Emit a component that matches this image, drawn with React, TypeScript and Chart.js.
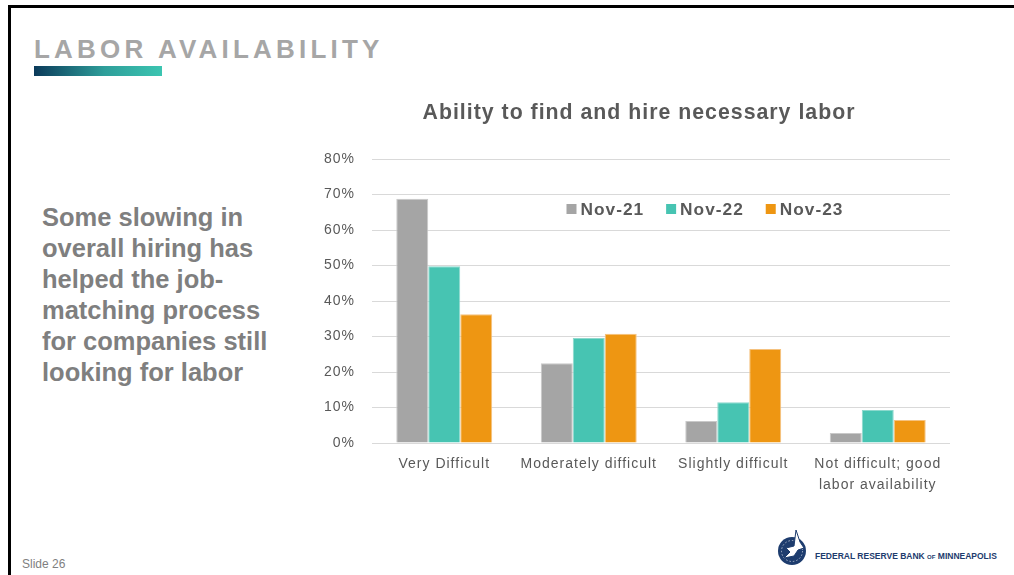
import React, { useEffect, useRef } from "react";
import { Chart, registerables } from "chart.js";

Chart.register(...registerables);

const chartTitle = "Ability to find and hire necessary labor";
const categories: (string | string[])[] = [
  "Very Difficult",
  "Moderately difficult",
  "Slightly difficult",
  ["Not difficult; good", "labor availability"],
];
const seriesNames = ["Nov-21", "Nov-22", "Nov-23"];
const nov21 = [68.8, 22.5, 6.2, 2.8];
const nov22 = [49.8, 29.6, 11.5, 9.3];
const nov23 = [36.3, 30.8, 26.5, 6.5];
const yMax = 80;
const yStep = 10;

const FONT = '"Liberation Sans", Arial, sans-serif';
const TEXT = "#595959";
const colors = ["#A5A5A5", "#47C4B2", "#EE9612"];
const edge = ["#C9C9C9", "#8CD9CD", "#F5C27F"];

const spacingPlugin = {
  id: "spacing",
  beforeUpdate(c: any) {
    c.ctx.letterSpacing = "1px";
  },
  beforeLayout(c: any) {
    c.ctx.letterSpacing = "1px";
  },
  beforeDraw(c: any) {
    c.ctx.letterSpacing = "1px";
  },
};

const titlePlugin = {
  id: "offsetTitle",
  afterDraw(chart: any) {
    const ctx = chart.ctx;
    const { left, right } = chart.chartArea;
    ctx.save();
    ctx.letterSpacing = "1px";
    ctx.font = `bold 21.3px ${FONT}`;
    ctx.fillStyle = TEXT;
    ctx.textAlign = "center";
    ctx.textBaseline = "middle";
    ctx.fillText(chartTitle, (left + right) / 2 - 22, 23);
    ctx.restore();
  },
};

const legendPlugin = {
  id: "innerLegend",
  afterDatasetsDraw(chart: any) {
    const ctx = chart.ctx;
    ctx.save();
    ctx.letterSpacing = "1px";
    ctx.font = `bold 17.3px ${FONT}`;
    ctx.textBaseline = "middle";
    ctx.textAlign = "left";
    const items = chart.data.datasets.map((ds: any) => ({
      label: ds.label,
      color: ds.backgroundColor,
      w: ctx.measureText(ds.label).width,
    }));
    const box = 10;
    const gapText = 4;
    const gapItem = 22;
    let total = 0;
    items.forEach((it: any, i: number) => {
      total += box + gapText + it.w + (i > 0 ? gapItem : 0);
    });
    const { left, width, top } = chart.chartArea;
    let x = left + width * 0.576 - total / 2;
    const y = top + 50;
    items.forEach((it: any) => {
      ctx.fillStyle = it.color;
      ctx.fillRect(x, y - 5, box, box);
      ctx.fillStyle = TEXT;
      ctx.fillText(it.label, x + box + gapText, y + 1);
      x += box + gapText + it.w + gapItem;
    });
    ctx.restore();
  },
};

function BarChart() {
  const ref = useRef<HTMLCanvasElement>(null);
  useEffect(() => {
    if (!ref.current) return;
    const data = [nov21, nov22, nov23];
    const chart = new Chart(ref.current, {
      type: "bar",
      data: {
        labels: categories as any,
        datasets: seriesNames.map((name, i) => ({
          label: name,
          data: data[i],
          backgroundColor: colors[i],
          borderColor: edge[i],
          borderWidth: 1,
          categoryPercentage: 0.664,
          barPercentage: 1,
        })),
      },
      options: {
        responsive: false,
        maintainAspectRatio: false,
        animation: false,
        layout: { padding: { left: 0, right: 20, top: 69, bottom: 0 } },
        plugins: {
          legend: { display: false },
          tooltip: { enabled: false },
          title: { display: false },
        },
        scales: {
          x: {
            grid: { display: false, drawTicks: false },
            border: { display: false },
            ticks: {
              color: TEXT,
              font: { family: FONT, size: 14, lineHeight: 1.5 },
              padding: 10.5,
              maxRotation: 0,
              autoSkip: false,
            },
            afterFit(scale: any) {
              scale.height = 67;
            },
          },
          y: {
            min: 0,
            max: yMax,
            grid: { color: "#D9D9D9", lineWidth: 1, drawTicks: false },
            border: { display: false },
            ticks: {
              stepSize: yStep,
              color: TEXT,
              font: { family: FONT, size: 14 },
              padding: 17,
              callback: (v: any) => `${v}%`,
            },
            afterFit(scale: any) {
              scale.width = 72;
            },
          },
        },
      },
      plugins: [spacingPlugin, titlePlugin, legendPlugin],
    });
    return () => chart.destroy();
  }, []);
  return <canvas ref={ref} width={670} height={420} style={{ position: "absolute", left: 300, top: 90, width: 670, height: 420 }} />;
}

export default function App() {
  return (
    <div
      style={{
        position: "fixed",
        left: 0,
        top: 0,
        width: 1014,
        height: 575,
        overflow: "hidden",
        background: "#fff",
        fontFamily: FONT,
      }}
    >
      <div
        style={{
          position: "absolute",
          left: 8,
          top: 5,
          width: 1100,
          height: 700,
          borderTop: "3px solid #000",
          borderLeft: "3px solid #000",
        }}
      />
      <div
        style={{
          position: "absolute",
          left: 34,
          top: 34,
          fontSize: 26,
          lineHeight: "30px",
          fontWeight: "bold",
          color: "#A6A6A6",
          letterSpacing: "4.2px",
          whiteSpace: "nowrap",
        }}
      >
        LABOR AVAILABILITY
      </div>
      <div
        style={{
          position: "absolute",
          left: 34,
          top: 66,
          width: 128,
          height: 10,
          background: "linear-gradient(to right, #0B3A5A, #2E9E9A 55%, #3CC5B1)",
        }}
      />
      <div
        style={{
          position: "absolute",
          left: 42,
          top: 202,
          fontSize: 25.5,
          lineHeight: "31px",
          fontWeight: "bold",
          color: "#7F7F7F",
          whiteSpace: "nowrap",
        }}
      >
        Some slowing in
        <br />
        overall hiring has
        <br />
        helped the job-
        <br />
        matching process
        <br />
        for companies still
        <br />
        looking for labor
      </div>
      <BarChart />
      <div
        style={{
          position: "absolute",
          left: 22,
          top: 557,
          fontSize: 12,
          lineHeight: "14px",
          color: "#7F7F7F",
        }}
      >
        Slide 26
      </div>
      <svg style={{ position: "absolute", left: 774, top: 528 }} width={40} height={40} viewBox="0 0 40 40">
        <circle cx={18} cy={23} r={14} fill="#1D3C6E" />
        <circle cx={18} cy={23} r={10.5} fill="none" stroke="#ffffff" strokeWidth={0.6} strokeDasharray="1.5 2" />
        <path d="M22 2 L26 14 L30 20 L24 22 L20 28 L10 30 L16 24 L12 20 L20 18 Z" fill="#ffffff" stroke="#1D3C6E" strokeWidth={1} />
      </svg>
      <div
        style={{
          position: "absolute",
          left: 815,
          top: 550,
          fontSize: 8.5,
          lineHeight: "12px",
          fontWeight: "bold",
          color: "#1D3C6E",
          whiteSpace: "nowrap",
        }}
      >
        FEDERAL RESERVE BANK <span style={{ fontSize: 6 }}>OF</span> MINNEAPOLIS
      </div>
    </div>
  );
}
